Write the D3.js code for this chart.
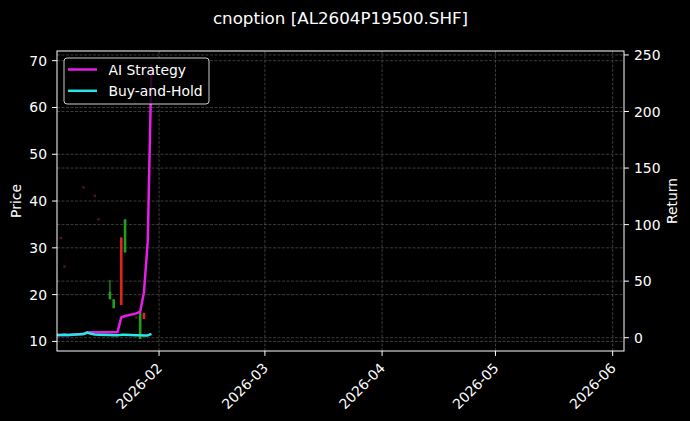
<!DOCTYPE html>
<html>
<head>
<meta charset="utf-8">
<script src="https://cdn.jsdelivr.net/npm/d3@7"></script>
<style>
  html, body { margin: 0; padding: 0; background: #000; }
  svg { display: block; }
  text { font-family: "DejaVu Sans", sans-serif; fill: #fff; }
</style>
</head>
<body>
<script>
// ---- data ----
const title = "cnoption [AL2604P19500.SHF]";
const tradeDates = ["2026-01-05","2026-01-06","2026-01-07","2026-01-08","2026-01-09",
  "2026-01-12","2026-01-13","2026-01-14","2026-01-15","2026-01-16",
  "2026-01-19","2026-01-20","2026-01-21","2026-01-22","2026-01-23",
  "2026-01-26","2026-01-27","2026-01-28","2026-01-29","2026-01-30"];
const aiReturn = [2.3,2.4,2.5,2.4,2.7,3.2,4.6,4.8,4.8,4.8,4.8,4.8,4.8,18.0,19.2,21.5,23.0,40.0,85.0,241.5];
const bhReturn = [2.3,2.4,2.5,2.4,2.7,3.2,4.6,3.4,2.9,2.7,2.3,2.2,2.1,2.5,2.6,2.2,2.1,1.9,2.0,3.4];

const candleDates = ["2026-01-19","2026-01-20","2026-01-22","2026-01-23","2026-01-27","2026-01-28"];
const candleOpen  = [19.0, 17.1, 32.2, 29.0, 10.5, 16.1];
const candleHigh  = [23.1, 19.0, 32.2, 36.1, 16.3, 16.1];
const candleLow   = [19.0, 17.1, 17.8, 29.0, 10.5, 14.8];
const candleClose = [20.6, 19.0, 17.8, 36.1, 16.3, 14.8];

const dojiDates = ["2026-01-06","2026-01-07","2026-01-12","2026-01-15","2026-01-16","2026-01-26"];
const dojiPrice = [32.1, 26.0, 42.9, 41.1, 36.1, 15.1];

const xLimits = ["2026-01-05","2026-06-04"];
const xTicks = ["2026-02-01","2026-03-01","2026-04-01","2026-05-01","2026-06-01"];
const priceLimits = [7.95, 72.07];
const priceTicks = [10,20,30,40,50,60,70];
const returnLimits = [-11.76, 253.5];
const returnTicks = [0,50,100,150,200,250];
const legendLabels = ["AI Strategy","Buy-and-Hold"];

// ---- layout ----
const W = 690, H = 421;
const L = 57, R = 624, T = 51, B = 351;
const parse = d3.utcParse("%Y-%m-%d");
const fmt = d3.utcFormat("%Y-%m");

const x = d3.scaleUtc().domain(xLimits.map(parse)).range([L, R]);
const yP = d3.scaleLinear().domain(priceLimits).range([B, T]);
const yR = d3.scaleLinear().domain(returnLimits).range([B, T]);

const svg = d3.select("body").append("svg").attr("width", W).attr("height", H);
svg.append("rect").attr("width", W).attr("height", H).attr("fill", "#000");

const clipId = "plotclip";
svg.append("defs").append("clipPath").attr("id", clipId)
  .append("rect").attr("x", L).attr("y", T).attr("width", R - L).attr("height", B - T);

// grid
const grid = svg.append("g").attr("stroke", "#555").attr("stroke-width", 0.7)
  .attr("stroke-dasharray", "3,1.5").attr("fill", "none");
xTicks.map(parse).forEach(d => grid.append("line")
  .attr("x1", x(d)).attr("x2", x(d)).attr("y1", T).attr("y2", B));
priceTicks.forEach(v => grid.append("line")
  .attr("x1", L).attr("x2", R).attr("y1", yP(v)).attr("y2", yP(v)));
returnTicks.forEach(v => grid.append("line")
  .attr("x1", L).attr("x2", R).attr("y1", yR(v)).attr("y2", yR(v)));

const plot = svg.append("g").attr("clip-path", `url(#${clipId})`);

// faint doji candles
plot.selectAll("rect.doji").data(dojiDates.map((d, i) => ({d: parse(d), p: dojiPrice[i]})))
  .enter().append("rect")
  .attr("x", d => x(d.d) - 1.2).attr("y", d => yP(d.p) - 1.2)
  .attr("width", 2.4).attr("height", 2.4).attr("fill", "#5a1414");

// candles
const candles = candleDates.map((d, i) => ({
  d: parse(d), o: candleOpen[i], h: candleHigh[i], l: candleLow[i], c: candleClose[i]
}));
const colorOf = c => c.c >= c.o ? "#1f9e1f" : "#e52222";
plot.selectAll("line.wick").data(candles).enter().append("line")
  .attr("x1", c => x(c.d)).attr("x2", c => x(c.d))
  .attr("y1", c => yP(c.h)).attr("y2", c => yP(c.l))
  .attr("stroke", colorOf).attr("stroke-width", 1.2);
plot.selectAll("rect.body").data(candles).enter().append("rect")
  .attr("x", c => x(c.d) - 1.3)
  .attr("y", c => yP(Math.max(c.o, c.c)))
  .attr("width", 2.6)
  .attr("height", c => Math.max(1, Math.abs(yP(c.o) - yP(c.c))))
  .attr("fill", colorOf);

// lines
const pts = arr => tradeDates.map((d, i) => [x(parse(d)), yR(arr[i])]);
const line = d3.line();
plot.append("path").attr("d", line(pts(aiReturn)))
  .attr("fill", "none").attr("stroke", "#e61ee6").attr("stroke-width", 2.5)
  .attr("stroke-linejoin", "round");
plot.append("path").attr("d", line(pts(bhReturn)))
  .attr("fill", "none").attr("stroke", "#28e6e6").attr("stroke-width", 2.5)
  .attr("stroke-linejoin", "round");

// spines
svg.append("rect").attr("x", L).attr("y", T).attr("width", R - L).attr("height", B - T)
  .attr("fill", "none").attr("stroke", "#fff").attr("stroke-width", 1);

// axes
const fs = 13.9;
const ax = svg.append("g");
priceTicks.forEach(v => {
  ax.append("line").attr("x1", L - 4.9).attr("x2", L).attr("y1", yP(v)).attr("y2", yP(v))
    .attr("stroke", "#fff").attr("stroke-width", 1);
  ax.append("text").attr("x", L - 10).attr("y", yP(v)).attr("dy", "0.36em")
    .attr("text-anchor", "end").attr("font-size", fs).text(v);
});
returnTicks.forEach(v => {
  ax.append("line").attr("x1", R).attr("x2", R + 4.9).attr("y1", yR(v)).attr("y2", yR(v))
    .attr("stroke", "#fff").attr("stroke-width", 1);
  ax.append("text").attr("x", R + 10).attr("y", yR(v)).attr("dy", "0.36em")
    .attr("text-anchor", "start").attr("font-size", fs).text(v);
});
xTicks.map(parse).forEach(d => {
  ax.append("line").attr("x1", x(d)).attr("x2", x(d)).attr("y1", B).attr("y2", B + 4.9)
    .attr("stroke", "#fff").attr("stroke-width", 1);
  const px = x(d) + 4, py = 369;
  ax.append("text").attr("x", px).attr("y", py)
    .attr("transform", `rotate(-45,${px},${py})`)
    .attr("text-anchor", "end").attr("font-size", fs).text(fmt(d));
});

svg.append("text").attr("transform", `translate(21,${(T + B) / 2}) rotate(-90)`)
  .attr("text-anchor", "middle").attr("font-size", fs).text("Price");
svg.append("text").attr("transform", `translate(677,${(T + B) / 2}) rotate(-90)`)
  .attr("text-anchor", "middle").attr("font-size", fs).text("Return");

// title
svg.append("text").attr("x", (L + R) / 2).attr("y", 24)
  .attr("text-anchor", "middle").attr("font-size", 16.7).text(title);

// legend
const lg = svg.append("g");
lg.append("rect").attr("x", 64).attr("y", 58).attr("width", 145).attr("height", 46)
  .attr("rx", 3).attr("fill", "#000").attr("fill-opacity", 0.8)
  .attr("stroke", "#cccccc").attr("stroke-width", 1);
const legColors = ["#e61ee6", "#28e6e6"];
legendLabels.forEach((lab, i) => {
  const yy = 69.5 + i * 21.3;
  lg.append("line").attr("x1", 68).attr("x2", 97).attr("y1", yy).attr("y2", yy)
    .attr("stroke", legColors[i]).attr("stroke-width", 2.5);
  lg.append("text").attr("x", 108.5).attr("y", yy).attr("dy", "0.36em")
    .attr("font-size", fs).text(lab);
});
</script>
</body>
</html>
